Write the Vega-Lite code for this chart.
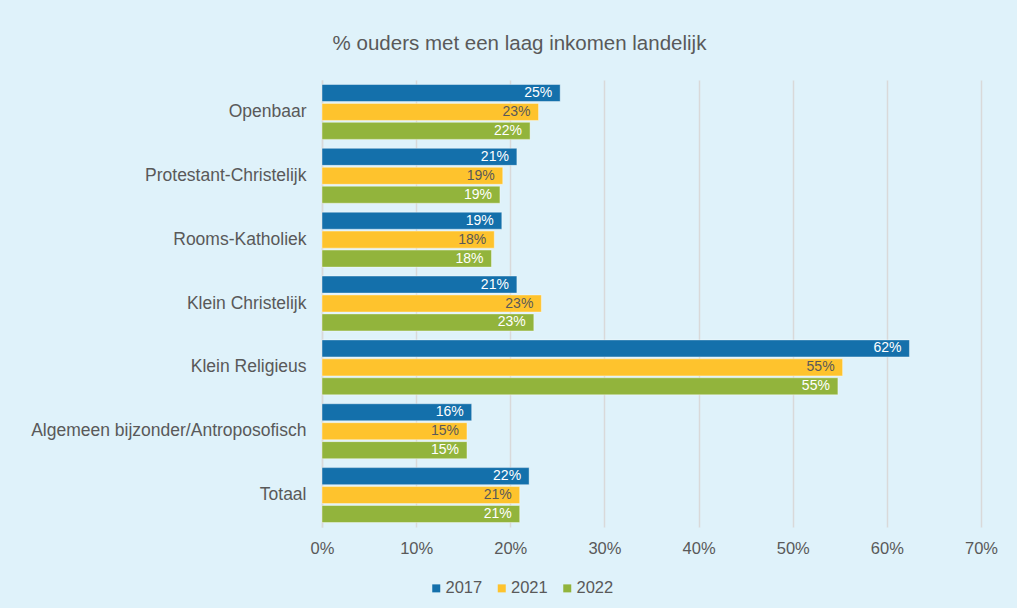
{
  "$schema": "https://vega.github.io/schema/vega-lite/v6.json",
  "autosize": {"type": "none"},
  "width": 659,
  "height": 447,
  "padding": {"left": 322, "top": 80, "right": 36, "bottom": 81},
  "background": "#dff2fa",
  "title": {
    "text": "% ouders met een laag inkomen landelijk",
    "fontSize": 20.5,
    "font": "Liberation Sans",
    "fontWeight": "normal",
    "color": "#595959",
    "anchor": "middle",
    "dx": -132,
    "offset": 26
  },
  "config": {
    "view": {"stroke": null},
    "font": "Liberation Sans"
  },
  "data": {
    "values": [
      {"cat": "Openbaar", "year": "2017", "v": 0.253},
      {"cat": "Openbaar", "year": "2021", "v": 0.230},
      {"cat": "Openbaar", "year": "2022", "v": 0.221},
      {"cat": "Protestant-Christelijk", "year": "2017", "v": 0.207},
      {"cat": "Protestant-Christelijk", "year": "2021", "v": 0.192},
      {"cat": "Protestant-Christelijk", "year": "2022", "v": 0.189},
      {"cat": "Rooms-Katholiek", "year": "2017", "v": 0.191},
      {"cat": "Rooms-Katholiek", "year": "2021", "v": 0.183},
      {"cat": "Rooms-Katholiek", "year": "2022", "v": 0.180},
      {"cat": "Klein Christelijk", "year": "2017", "v": 0.207},
      {"cat": "Klein Christelijk", "year": "2021", "v": 0.233},
      {"cat": "Klein Christelijk", "year": "2022", "v": 0.225},
      {"cat": "Klein Religieus", "year": "2017", "v": 0.624},
      {"cat": "Klein Religieus", "year": "2021", "v": 0.553},
      {"cat": "Klein Religieus", "year": "2022", "v": 0.548},
      {"cat": "Algemeen bijzonder/Antroposofisch", "year": "2017", "v": 0.159},
      {"cat": "Algemeen bijzonder/Antroposofisch", "year": "2021", "v": 0.154},
      {"cat": "Algemeen bijzonder/Antroposofisch", "year": "2022", "v": 0.154},
      {"cat": "Totaal", "year": "2017", "v": 0.220},
      {"cat": "Totaal", "year": "2021", "v": 0.210},
      {"cat": "Totaal", "year": "2022", "v": 0.210}
    ]
  },
  "encoding": {
    "y": {
      "field": "cat",
      "type": "nominal",
      "sort": null,
      "title": null,
      "scale": {"paddingInner": 0.14, "paddingOuter": 0.07},
      "axis": {
        "ticks": false,
        "domain": true,
        "domainColor": "#d9d9d9",
        "domainWidth": 1.5,
        "labelFontSize": 17.5,
        "labelColor": "#595959",
        "labelPadding": 16,
        "labelLimit": 400,
        "labelFont": "Liberation Sans"
      }
    },
    "yOffset": {
      "field": "year",
      "type": "nominal",
      "scale": {"paddingInner": 0.1}
    },
    "x": {
      "field": "v",
      "type": "quantitative",
      "title": null,
      "scale": {"domain": [0, 0.7], "nice": false},
      "axis": {
        "format": ".0%",
        "values": [0, 0.1, 0.2, 0.3, 0.4, 0.5, 0.6, 0.7],
        "grid": true,
        "gridColor": "#d9d9d9",
        "gridWidth": 1.5,
        "domain": false,
        "ticks": false,
        "labelFlush": false,
        "labelFontSize": 16.5,
        "labelColor": "#595959",
        "labelPadding": 13,
        "labelFont": "Liberation Sans"
      }
    }
  },
  "layer": [
    {
      "mark": {"type": "bar", "stroke": "#ffffff", "strokeWidth": 0.8, "strokeOpacity": 0.5},
      "encoding": {
        "color": {
          "field": "year",
          "type": "nominal",
          "scale": {"domain": ["2017", "2021", "2022"], "range": ["#1470ab", "#fec32d", "#92b43c"]},
          "legend": {
            "title": null,
            "orient": "none",
            "direction": "horizontal",
            "legendX": 106,
            "legendY": 500,
            "symbolType": "square",
            "symbolSize": 64,
            "symbolStrokeWidth": 0,
            "labelFontSize": 16.5,
            "labelColor": "#595959",
            "labelFont": "Liberation Sans",
            "labelOffset": 1,
            "columnPadding": 10.5
          }
        }
      }
    },
    {
      "mark": {"type": "text", "align": "right", "baseline": "middle", "dx": -8, "fontSize": 14, "font": "Liberation Sans"},
      "encoding": {
        "text": {"field": "v", "type": "quantitative", "format": ".0%"},
        "color": {
          "condition": {"test": "datum.year === '2021'", "value": "#595959"},
          "value": "#ffffff"
        }
      }
    }
  ]
}
